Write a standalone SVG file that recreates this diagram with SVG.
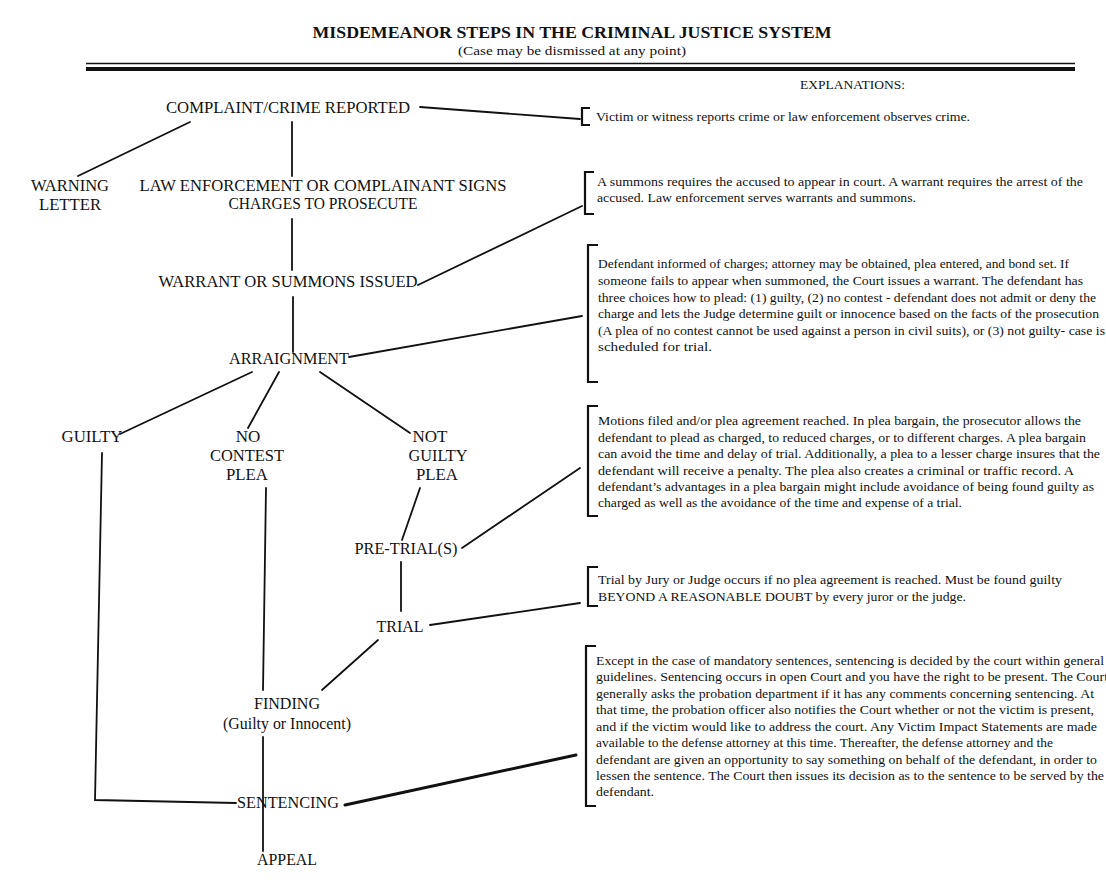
<svg xmlns="http://www.w3.org/2000/svg" width="1106" height="887" viewBox="0 0 1106 887">
<style>
.n{font-family:"Liberation Serif","Times New Roman",serif;font-size:17px;fill:#111;text-anchor:middle}
.e{font-family:"Liberation Serif","Times New Roman",serif;font-size:13px;fill:#111}
.c{stroke:#111;stroke-width:1.8;fill:none;stroke-linecap:round}
.b{stroke:#111;stroke-width:2.2;fill:none}
</style>
<rect width="1106" height="887" fill="#fff"/>
<g id="header">
<text x="572" y="38" class="n" style="font-weight:bold;font-size:17px" textLength="519" lengthAdjust="spacingAndGlyphs">MISDEMEANOR STEPS IN THE CRIMINAL JUSTICE SYSTEM</text>
<text x="572" y="55" class="n" style="font-size:13px" textLength="228" lengthAdjust="spacingAndGlyphs">(Case may be dismissed at any point)</text>
<line x1="86" y1="63.5" x2="1075" y2="63.5" stroke="#111" stroke-width="1.5"/>
<line x1="86" y1="69" x2="1075" y2="69" stroke="#111" stroke-width="4"/>
<text x="800" y="89" class="e" textLength="105" lengthAdjust="spacingAndGlyphs">EXPLANATIONS:</text>
</g>
<g id="connectors">
<line class="c" x1="420" y1="107" x2="580" y2="119"/>
<line class="c" x1="190" y1="122" x2="78" y2="176"/>
<line class="c" x1="292" y1="122" x2="292" y2="176"/>
<line class="c" x1="292" y1="219" x2="292" y2="270"/>
<line class="c" x1="418" y1="285" x2="582" y2="206"/>
<line class="c" x1="293" y1="297" x2="293" y2="352"/>
<line class="c" x1="349" y1="357" x2="582" y2="316"/>
<line class="c" x1="252" y1="372" x2="120" y2="434"/>
<line class="c" x1="279" y1="372" x2="248" y2="428"/>
<line class="c" x1="320" y1="372" x2="410" y2="433"/>
<polyline class="c" points="102,453 95,800 236,803"/>
<line class="c" x1="266" y1="488" x2="263" y2="690"/>
<line class="c" x1="263" y1="737" x2="263" y2="851"/>
<line class="c" x1="420" y1="488" x2="402" y2="540"/>
<line class="c" x1="462" y1="548" x2="580" y2="468"/>
<line class="c" x1="401" y1="562" x2="401" y2="611"/>
<line class="c" x1="430" y1="625" x2="580" y2="603"/>
<line class="c" x1="378" y1="640" x2="322" y2="690"/>
<line class="c" style="stroke-width:3" x1="345" y1="805" x2="576" y2="755"/>
</g>
<g id="complaint"><text x="288" y="113" class="n" textLength="244" lengthAdjust="spacingAndGlyphs">COMPLAINT/CRIME REPORTED</text></g>
<g id="warning-letter"><text x="70" y="191" class="n" textLength="78" lengthAdjust="spacingAndGlyphs">WARNING</text><text x="70" y="210" class="n" textLength="62" lengthAdjust="spacingAndGlyphs">LETTER</text></g>
<g id="signs-charges"><text x="323" y="191" class="n" textLength="367" lengthAdjust="spacingAndGlyphs">LAW ENFORCEMENT OR COMPLAINANT SIGNS</text><text x="323" y="209" class="n" textLength="189" lengthAdjust="spacingAndGlyphs">CHARGES TO PROSECUTE</text></g>
<g id="warrant"><text x="288" y="287" class="n" textLength="259" lengthAdjust="spacingAndGlyphs">WARRANT OR SUMMONS ISSUED</text></g>
<g id="arraignment"><text x="289" y="364" class="n" textLength="120" lengthAdjust="spacingAndGlyphs">ARRAIGNMENT</text></g>
<g id="guilty"><text x="92" y="442" class="n" textLength="61" lengthAdjust="spacingAndGlyphs">GUILTY</text></g>
<g id="no-contest"><text x="248" y="442" class="n">NO</text><text x="247" y="461" class="n" textLength="74" lengthAdjust="spacingAndGlyphs">CONTEST</text><text x="247" y="480" class="n" textLength="42" lengthAdjust="spacingAndGlyphs">PLEA</text></g>
<g id="not-guilty"><text x="430" y="442" class="n" textLength="35" lengthAdjust="spacingAndGlyphs">NOT</text><text x="438" y="461" class="n" textLength="59" lengthAdjust="spacingAndGlyphs">GUILTY</text><text x="437" y="480" class="n" textLength="42" lengthAdjust="spacingAndGlyphs">PLEA</text></g>
<g id="pretrial"><text x="406" y="554" class="n" textLength="103" lengthAdjust="spacingAndGlyphs">PRE-TRIAL(S)</text></g>
<g id="trial"><text x="400" y="632" class="n" textLength="47" lengthAdjust="spacingAndGlyphs">TRIAL</text></g>
<g id="finding"><text x="287" y="709" class="n" textLength="66" lengthAdjust="spacingAndGlyphs">FINDING</text><text x="287" y="729" class="n" textLength="128" lengthAdjust="spacingAndGlyphs">(Guilty or Innocent)</text></g>
<g id="sentencing"><text x="288" y="808" class="n" textLength="102" lengthAdjust="spacingAndGlyphs">SENTENCING</text></g>
<g id="appeal"><text x="287" y="865" class="n" textLength="60" lengthAdjust="spacingAndGlyphs">APPEAL</text></g>
<g id="exp-complaint">
<path class="b" d="M590,108 H582 V125 H590"/>
<text x="596" y="121" class="e" textLength="374" lengthAdjust="spacingAndGlyphs">Victim or witness reports crime or law enforcement observes crime.</text>
</g>
<g id="exp-warrant">
<path class="b" d="M594,172 H585 V214 H594"/>
<text x="597" y="186" class="e" textLength="486" lengthAdjust="spacingAndGlyphs">A summons requires the accused to appear in court.  A warrant requires the arrest of the</text>
<text x="597" y="202" class="e" textLength="319" lengthAdjust="spacingAndGlyphs">accused.  Law enforcement serves warrants and summons.</text>
</g>
<g id="exp-arraignment">
<path class="b" d="M598,245 H588 V382 H598"/>
<text x="598" y="268" class="e" textLength="471" lengthAdjust="spacingAndGlyphs">Defendant informed of charges; attorney may be obtained, plea entered, and bond set.  If</text>
<text x="598" y="285" class="e" textLength="485" lengthAdjust="spacingAndGlyphs">someone fails to appear when summoned, the Court issues a warrant.  The defendant has</text>
<text x="598" y="302" class="e" textLength="498" lengthAdjust="spacingAndGlyphs">three choices how to plead: (1) guilty, (2) no contest - defendant does not admit or deny the</text>
<text x="598" y="318" class="e" textLength="501" lengthAdjust="spacingAndGlyphs">charge and lets the Judge determine guilt or innocence based on the facts of the prosecution</text>
<text x="598" y="335" class="e" textLength="507" lengthAdjust="spacingAndGlyphs">(A plea of no contest cannot be used against a person in civil suits), or  (3) not guilty- case is</text>
<text x="598" y="351" class="e" textLength="114" lengthAdjust="spacingAndGlyphs">scheduled for trial.</text>
</g>
<g id="exp-pretrial">
<path class="b" d="M598,406 H588 V516 H598"/>
<text x="598" y="425" class="e" textLength="483" lengthAdjust="spacingAndGlyphs">Motions filed and/or plea agreement reached.  In plea bargain, the prosecutor allows the</text>
<text x="598" y="442" class="e" textLength="488" lengthAdjust="spacingAndGlyphs">defendant to plead as charged, to reduced charges, or to different charges.  A plea bargain</text>
<text x="598" y="458" class="e" textLength="502" lengthAdjust="spacingAndGlyphs">can avoid the time and delay of trial.  Additionally, a plea to a lesser charge insures that the</text>
<text x="598" y="475" class="e" textLength="476" lengthAdjust="spacingAndGlyphs">defendant will receive a penalty.  The plea also creates a criminal or traffic record.  A</text>
<text x="598" y="491" class="e" textLength="496" lengthAdjust="spacingAndGlyphs">defendant’s advantages in a plea bargain might include avoidance of being found guilty as</text>
<text x="598" y="507" class="e" textLength="364" lengthAdjust="spacingAndGlyphs">charged as well as the avoidance of the time and expense of a trial.</text>
</g>
<g id="exp-trial">
<path class="b" d="M598,567 H588 V606 H598"/>
<text x="598" y="584" class="e" textLength="464" lengthAdjust="spacingAndGlyphs">Trial by Jury or Judge occurs if no plea agreement is reached.  Must be found guilty</text>
<text x="598" y="601" class="e" textLength="368" lengthAdjust="spacingAndGlyphs">BEYOND A REASONABLE DOUBT by every juror or the judge.</text>
</g>
<g id="exp-sentencing">
<path class="b" d="M596,646 H586 V806 H596"/>
<text x="596" y="665" class="e" textLength="508" lengthAdjust="spacingAndGlyphs">Except in the case of mandatory sentences, sentencing is decided by the court within general</text>
<text x="596" y="681" class="e" textLength="512" lengthAdjust="spacingAndGlyphs">guidelines.  Sentencing occurs in open Court and you have the right to be present.  The Court</text>
<text x="596" y="698" class="e" textLength="498" lengthAdjust="spacingAndGlyphs">generally asks the probation department if it has any comments concerning sentencing.  At</text>
<text x="596" y="714" class="e" textLength="498" lengthAdjust="spacingAndGlyphs">that time, the probation officer also notifies the Court whether or not the victim is present,</text>
<text x="596" y="731" class="e" textLength="501" lengthAdjust="spacingAndGlyphs">and if the victim would like to address the court.  Any Victim Impact Statements are made</text>
<text x="596" y="747" class="e" textLength="457" lengthAdjust="spacingAndGlyphs">available to the defense attorney at this time.  Thereafter, the defense attorney and the</text>
<text x="596" y="764" class="e" textLength="501" lengthAdjust="spacingAndGlyphs">defendant are given an opportunity to say something on behalf of the defendant, in order to</text>
<text x="596" y="780" class="e" textLength="508" lengthAdjust="spacingAndGlyphs">lessen the sentence.  The Court then issues its decision as to the sentence to be served by the</text>
<text x="596" y="796" class="e" textLength="58" lengthAdjust="spacingAndGlyphs">defendant.</text>
</g>
</svg>
